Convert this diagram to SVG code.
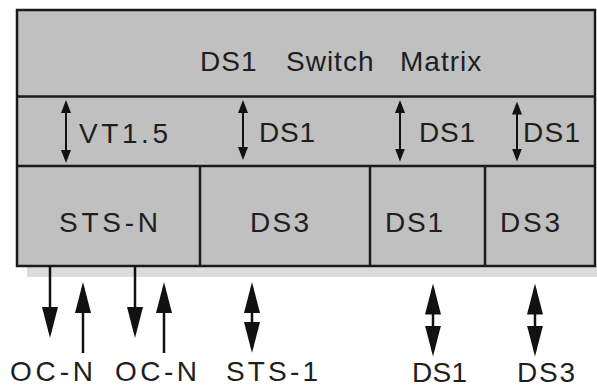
<svg xmlns="http://www.w3.org/2000/svg" width="597" height="388" viewBox="0 0 597 388">
<style>
text{font-family:"Liberation Sans",Arial,Helvetica,sans-serif;font-size:28px;fill:#1e1e1e}
.cell{fill:#c0c0c0;stroke:#1a1a1a;stroke-width:2.5}
.div{stroke:#1a1a1a;stroke-width:2.5;fill:none}
.sa{stroke:#111;stroke-width:2;fill:none;marker-start:url(#sh);marker-end:url(#sh)}
.ba{stroke:#111;stroke-width:2.5;fill:none;marker-end:url(#bh)}
.bd{stroke:#111;stroke-width:2.5;fill:none;marker-start:url(#bh);marker-end:url(#bh)}
</style>
<defs>
<marker id="sh" viewBox="0 0 13 10" refX="9" refY="5" markerWidth="13" markerHeight="10" markerUnits="userSpaceOnUse" orient="auto-start-reverse"><path d="M0,0 L13,5 L0,10 z" fill="#111"/></marker>
<marker id="bh" viewBox="0 0 31 16" refX="25" refY="8" markerWidth="31" markerHeight="16" markerUnits="userSpaceOnUse" orient="auto-start-reverse"><path d="M0,0 L31,8 L0,16 z" fill="#111"/></marker>
</defs>
<rect x="27" y="266" width="570" height="11" fill="#dcdcdc"/>
<g id="matrix">
<rect class="cell" x="17" y="10" width="578" height="256"/>
<text y="71" letter-spacing="1"><tspan x="200">DS1</tspan><tspan x="286">Switch</tspan><tspan x="400">Matrix</tspan></text>
</g>
<g id="tributary-row">
<line class="div" x1="17" y1="96.5" x2="595" y2="96.5"/>
<line class="div" x1="17" y1="166" x2="595" y2="166"/>
<text x="79" y="142.5" textLength="89" lengthAdjust="spacing">VT1.5</text>
<text x="259" y="142" textLength="56" lengthAdjust="spacing">DS1</text>
<text x="419" y="142" textLength="56" lengthAdjust="spacing">DS1</text>
<text x="523" y="142" textLength="57" lengthAdjust="spacing">DS1</text>
</g>
<g id="sts-n"><line class="div" x1="200" y1="166" x2="200" y2="266"/><text x="59" y="231.5" textLength="99" lengthAdjust="spacing">STS-N</text></g>
<g id="ds3-a"><line class="div" x1="370" y1="166" x2="370" y2="266"/><text x="250" y="231.5" textLength="59" lengthAdjust="spacing">DS3</text></g>
<g id="ds1-b"><line class="div" x1="485" y1="166" x2="485" y2="266"/><text x="385" y="231.5" textLength="58" lengthAdjust="spacing">DS1</text></g>
<g id="ds3-b"><text x="500" y="231.5" textLength="60" lengthAdjust="spacing">DS3</text></g>
<g id="connectors">
<line class="sa" x1="66" y1="104" x2="66" y2="159"/>
<line class="sa" x1="243" y1="104" x2="243" y2="156"/>
<line class="sa" x1="400" y1="104" x2="400" y2="157.5"/>
<line class="sa" x1="517" y1="105.5" x2="517" y2="157.5"/>
<line class="ba" x1="50" y1="266" x2="50" y2="332"/>
<line class="ba" x1="83" y1="353" x2="83" y2="288"/>
<line class="ba" x1="135" y1="266" x2="135" y2="332"/>
<line class="ba" x1="164" y1="353" x2="164" y2="288"/>
<line class="bd" x1="252" y1="288" x2="252" y2="347"/>
<line class="bd" x1="433" y1="289.5" x2="433" y2="350.5"/>
<line class="bd" x1="535" y1="289.5" x2="535" y2="350.5"/>
</g>
<g id="external-labels">
<text x="10" y="381" textLength="83" lengthAdjust="spacing">OC-N</text>
<text x="115" y="381" textLength="82" lengthAdjust="spacing">OC-N</text>
<text x="226" y="381" textLength="92" lengthAdjust="spacing">STS-1</text>
<text x="412" y="382" textLength="55" lengthAdjust="spacing">DS1</text>
<text x="517" y="382" textLength="58" lengthAdjust="spacing">DS3</text>
</g>
</svg>
